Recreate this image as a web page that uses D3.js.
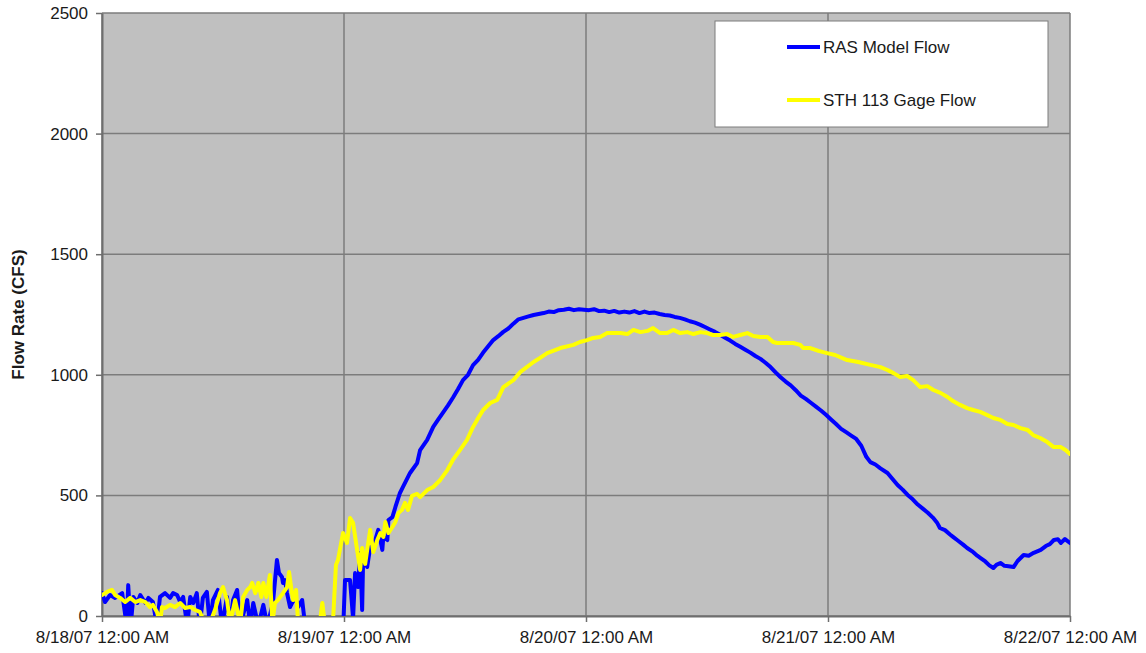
<!DOCTYPE html>
<html>
<head>
<meta charset="utf-8">
<script src="https://cdn.jsdelivr.net/npm/d3@7"></script>
<style>
  body { margin: 0; background: #ffffff; }
  svg { display: block; font-family: "Liberation Sans", Arial, sans-serif; }
</style>
</head>
<body>
<svg id="chart" width="1146" height="653"></svg>
<script>
// Time axis: four days starting 8/18/07 midnight, gridline at each midnight
const startDate = new Date(2007, 7, 18, 0, 0, 0);
const endDate = new Date(2007, 7, 22, 0, 0, 0);
const dayTicks = [0, 1, 2, 3, 4].map(d => new Date(2007, 7, 18 + d, 0, 0, 0));
const flowTicks = [0, 500, 1000, 1500, 2000, 2500];

// [hours since 8/18/07 12:00 AM, flow in CFS]
const rasModelFlow = [
  [0,95],[0.3,58],[0.8,87],[1.3,75],[2.0,95],[2.45,-40],[2.6,128],[2.85,-40],[3.1,79],[3.5,54],
  [3.8,87],[4.3,54],[4.6,75],[5.05,58],[5.45,-40],[5.75,79],[6.25,95],[6.75,75],[7.05,95],[7.45,87],
  [7.75,58],[8.05,79],[8.45,-40],[8.75,79],[9.05,54],[9.4,95],[9.7,-40],[10.0,75],[10.4,100],[10.7,-40],
  [11.0,66],[11.5,108],[11.9,-40],[12.4,79],[12.7,-40],[13.0,66],[13.4,108],[13.7,-40],[14.4,66],[14.7,-40],
  [15.0,54],[15.5,-40],[16.0,46],[16.4,-40],[16.95,54],[17.35,232],[17.55,178],[17.85,162],[17.95,137],[18.15,149],
  [18.35,95],[18.65,37],[19.15,79],[19.45,37],[19.85,66],[20.15,-40],[20.5,-60],[23.7,-60],[23.95,-20],[24.1,149],
  [24.6,149],[24.9,-10],[25.1,178],[25.4,120],[25.6,261],[25.8,25],[25.9,245],[26.3,203],[26.6,286],[26.9,274],
  [27.1,315],[27.4,357],[27.8,274],[27.9,328],[28.3,315],[28.4,398],[28.8,410],[29.1,452],[29.55,510],[29.85,535],
  [30.55,593],[31.25,634],[31.55,688],[32.25,730],[32.85,784],[33.3,812],[33.8,842],[34.3,872],[34.8,905],[35.3,940],
  [35.8,978],[36.3,1000],[36.8,1040],[37.3,1062],[37.8,1092],[38.3,1118],[38.8,1144],[39.3,1160],[39.8,1178],[40.3,1192],
  [40.8,1212],[41.3,1230],[41.8,1236],[42.3,1242],[42.8,1248],[43.3,1252],[43.8,1256],[44.3,1262],[44.8,1260],[45.3,1268],
  [45.8,1270],[46.3,1274],[46.8,1268],[47.3,1272],[47.8,1270],[48.3,1268],[48.8,1272],[49.3,1264],[49.8,1266],[50.3,1260],
  [50.8,1265],[51.3,1258],[51.8,1262],[52.3,1258],[52.8,1264],[53.3,1256],[53.8,1262],[54.3,1256],[54.8,1258],[55.3,1252],
  [55.8,1248],[56.3,1246],[56.8,1240],[57.3,1236],[57.8,1230],[58.3,1222],[58.8,1216],[59.3,1208],[59.8,1198],[60.3,1188],
  [60.8,1178],[61.3,1166],[61.8,1154],[62.3,1142],[62.8,1128],[63.3,1116],[63.8,1104],[64.3,1092],[64.8,1078],[65.3,1066],
  [65.8,1050],[66.3,1032],[66.8,1010],[67.3,990],[67.8,972],[68.3,956],[68.8,936],[69.3,914],[69.8,900],[70.3,884],
  [70.8,868],[71.3,852],[71.8,834],[72.3,815],[72.8,796],[73.3,776],[73.8,762],[74.3,748],[74.8,734],[75.3,706],
  [75.8,660],[76.2,638],[76.7,628],[77.2,612],[77.9,593],[78.4,568],[78.9,543],[79.4,524],[79.9,502],[80.4,484],
  [80.9,462],[81.4,445],[81.9,428],[82.4,408],[82.8,388],[83.1,365],[83.6,356],[84.1,338],[84.4,328],[84.9,312],
  [85.4,296],[85.8,282],[86.3,268],[86.8,250],[87.1,241],[87.6,226],[88.0,210],[88.4,199],[88.7,212],[89.1,220],
  [89.5,208],[89.9,206],[90.4,203],[90.8,228],[91.4,253],[91.9,250],[92.4,262],[93.1,274],[93.6,290],[94.0,298],
  [94.4,315],[94.8,318],[95.1,303],[95.5,319],[96.0,303]
];

const gageFlow = [
  [0,87],[0.5,100],[1.0,108],[1.3,87],[1.8,75],[2.3,58],[2.8,75],[3.3,58],[3.8,66],[4.3,58],
  [4.75,37],[5.05,46],[5.45,17],[5.75,-30],[5.95,37],[6.25,33],[6.75,46],[7.25,37],[7.75,54],[8.25,33],
  [8.75,37],[9.25,25],[9.7,17],[10.2,-30],[10.7,-30],[11.2,25],[11.7,95],[12.0,120],[12.4,66],[12.7,-30],
  [13.2,66],[13.7,-30],[14.0,79],[14.4,108],[14.7,120],[14.9,137],[15.2,95],[15.5,137],[15.8,79],[16.0,137],
  [16.3,79],[16.65,170],[16.9,-30],[17.15,54],[17.45,66],[17.95,95],[18.35,120],[18.55,182],[18.75,120],[18.95,66],
  [19.25,108],[19.45,-30],[19.85,-40],[21.6,-30],[21.85,54],[22.1,-30],[22.9,-30],[23.2,211],[23.4,232],[23.9,344],
  [24.3,303],[24.6,406],[24.9,386],[25.3,274],[25.6,191],[25.8,282],[26.1,216],[26.4,303],[26.6,357],[26.9,265],
  [27.3,315],[27.6,344],[27.9,328],[28.1,390],[28.4,344],[28.8,369],[29.1,390],[29.4,427],[29.75,440],[30.05,469],
  [30.35,440],[30.75,498],[31.25,506],[31.55,493],[32.25,522],[32.85,535],[33.55,564],[34.25,605],[34.8,647],[35.5,688],
  [36.2,730],[36.8,784],[37.2,813],[37.8,854],[38.5,883],[39.2,896],[39.8,949],[40.8,978],[41.5,1012],[42.8,1053],
  [43.45,1070],[44.15,1090],[45.45,1111],[46.75,1124],[47.4,1136],[48.1,1144],[48.7,1153],[49.4,1157],[50.1,1173],[51.4,1173],
  [52.1,1169],[52.7,1186],[53.4,1177],[54.1,1182],[54.65,1194],[55.35,1173],[56.05,1173],[56.65,1186],[57.35,1173],[58.05,1177],
  [58.65,1169],[59.35,1177],[60.0,1173],[60.6,1165],[61.3,1165],[62.0,1169],[62.6,1157],[63.3,1165],[64.0,1173],[64.6,1161],
  [65.3,1157],[66.0,1157],[66.55,1136],[66.95,1132],[67.75,1132],[68.55,1132],[69.25,1124],[69.55,1111],[70.25,1111],[71.05,1099],
  [71.9,1090],[72.7,1082],[73.9,1061],[75.0,1053],[76.2,1041],[77.2,1032],[77.9,1020],[78.5,1007],[79.15,991],[79.85,995],
  [80.45,978],[81.15,949],[81.85,953],[82.45,937],[83.15,925],[83.85,908],[84.4,891],[85.1,875],[85.8,862],[86.4,854],
  [87.1,846],[87.8,833],[88.4,821],[89.1,813],[89.8,796],[90.4,792],[91.1,779],[91.8,771],[92.35,750],[93.05,738],
  [93.75,721],[94.35,701],[95.05,701],[95.55,688],[96.0,672]
];

const seriesInfo = [
  { name: "RAS Model Flow", color: "#0000ff", data: rasModelFlow },
  { name: "STH 113 Gage Flow", color: "#ffff00", data: gageFlow }
];

const margin = { left: 102, right: 76, top: 13, bottom: 37 };
const width = 1146, height = 653;
const svg = d3.select("#chart");

const x = d3.scaleTime().domain([startDate, endDate]).range([margin.left, width - margin.right]);
const y = d3.scaleLinear().domain([0, 2500]).range([height - margin.bottom, margin.top]);
const hourToDate = h => new Date(startDate.getTime() + h * 3600e3);

// plot area background
svg.append("rect")
  .attr("x", x.range()[0]).attr("y", y.range()[1])
  .attr("width", x.range()[1] - x.range()[0])
  .attr("height", y.range()[0] - y.range()[1])
  .attr("fill", "#c0c0c0");

// gridlines
const grid = svg.append("g").attr("stroke", "#7c7c7c").attr("stroke-width", 1.5);
grid.selectAll("line.h").data(flowTicks).join("line")
  .attr("x1", x.range()[0]).attr("x2", x.range()[1])
  .attr("y1", d => y(d)).attr("y2", d => y(d));
grid.selectAll("line.v").data(dayTicks).join("line")
  .attr("x1", d => x(d)).attr("x2", d => x(d))
  .attr("y1", y.range()[1]).attr("y2", y.range()[0]);

// axes
const fmt = d3.timeFormat("%-m/%d/%y %-I:%M %p");
const xAxis = svg.append("g")
  .attr("transform", `translate(0,${y.range()[0]})`)
  .call(d3.axisBottom(x).tickValues(dayTicks).tickFormat(fmt).tickSize(6).tickSizeOuter(0).tickPadding(9));
const yAxis = svg.append("g")
  .attr("transform", `translate(${x.range()[0]},0)`)
  .call(d3.axisLeft(y).tickValues(flowTicks).tickFormat(d3.format("d")).tickSize(6).tickSizeOuter(0).tickPadding(8));
[xAxis, yAxis].forEach(a => {
  a.select(".domain").attr("stroke", "#6e6e6e").attr("stroke-width", 2);
  a.selectAll(".tick line").attr("stroke", "#6e6e6e").attr("stroke-width", 1.5);
  a.selectAll(".tick text").attr("fill", "#1a1a1a").style("font-size", "17px")
    .style("font-family", '"Liberation Sans", Arial, sans-serif');
});

// axis title
svg.append("text")
  .attr("transform", `translate(24,${(y.range()[0] + y.range()[1]) / 2}) rotate(-90)`)
  .attr("text-anchor", "middle")
  .attr("font-size", 17).attr("font-weight", "bold").attr("fill", "#1a1a1a")
  .text("Flow Rate (CFS)");

// series lines, clipped to the plot area
svg.append("clipPath").attr("id", "plotClip").append("rect")
  .attr("x", x.range()[0]).attr("y", y.range()[1])
  .attr("width", x.range()[1] - x.range()[0])
  .attr("height", y.range()[0] - y.range()[1]);

const line = d3.line().x(d => x(hourToDate(d[0]))).y(d => y(d[1]));
svg.append("g").attr("clip-path", "url(#plotClip)")
  .selectAll("path").data(seriesInfo).join("path")
  .attr("d", d => line(d.data))
  .attr("fill", "none")
  .attr("stroke", d => d.color)
  .attr("stroke-width", 4)
  .attr("stroke-linejoin", "round")
  .attr("stroke-linecap", "round");

// legend
const legend = svg.append("g");
legend.append("rect")
  .attr("x", 715).attr("y", 21).attr("width", 333).attr("height", 106)
  .attr("fill", "#ffffff").attr("stroke", "#7c7c7c").attr("stroke-width", 1);
const items = legend.selectAll("g.item").data(seriesInfo).join("g")
  .attr("transform", (d, i) => `translate(787,${47 + i * 53})`);
items.append("line").attr("x1", 0).attr("x2", 33)
  .attr("stroke", d => d.color).attr("stroke-width", 4);
items.append("text").attr("x", 36).attr("dy", "0.36em")
  .attr("font-size", 17).attr("fill", "#1a1a1a")
  .text(d => d.name);
</script>
</body>
</html>
